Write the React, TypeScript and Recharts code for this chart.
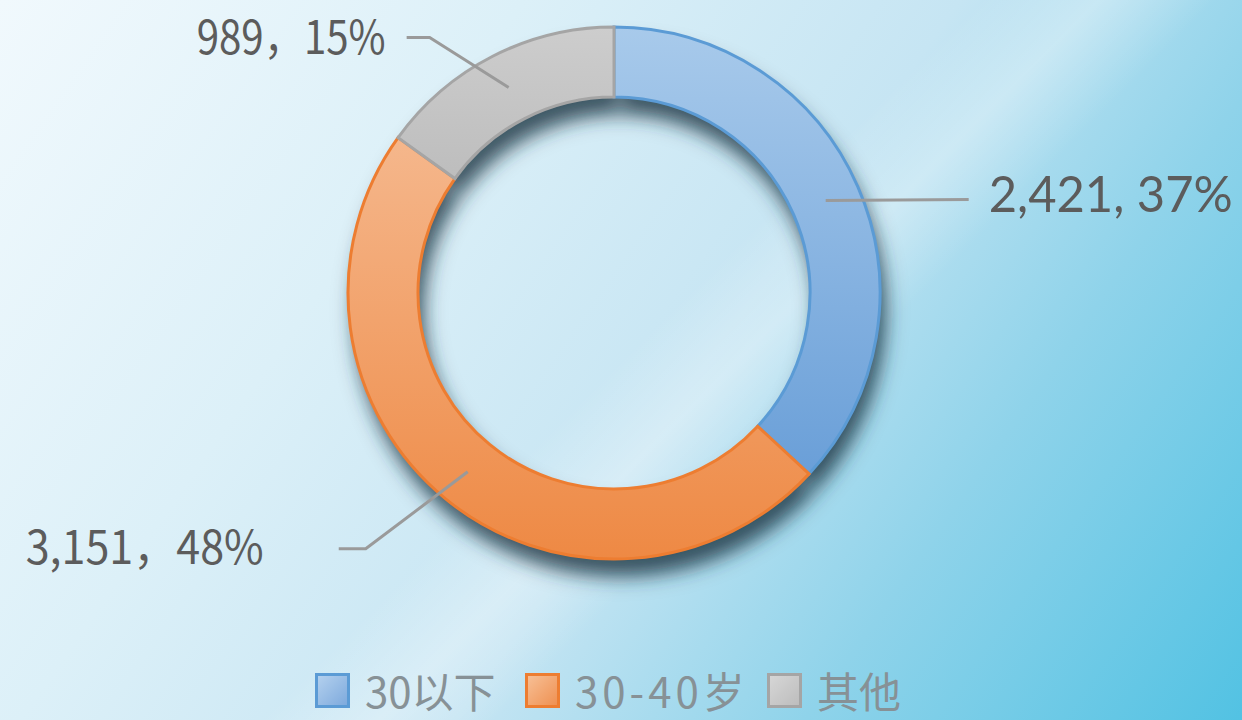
import { PieChart, Pie, Cell, Legend } from 'recharts';

// age groups
const categories = ['30以下', '30-40岁', '其他'];
const counts = [2421, 3151, 989];

const data = categories.map((name, i) => ({ name, value: counts[i] }));

const FILLS = ['url(#gBlue)', 'url(#gOrange)', 'url(#gGrey)'];
const EDGES = ['#5b9bd5', '#ed7d31', '#a5a5a5'];
const SWATCH = [
  'linear-gradient(135deg, #b3d0ee, #7eaadd)',
  'linear-gradient(135deg, #f7bf95, #ef9152)',
  'linear-gradient(135deg, #d6d6d6, #bdbdbd)',
];
const LEGEND_TEXT_W = [140, 172, 93];

const RAD = Math.PI / 180;

// leader line + text placement, per slice
const LABEL_LAYOUT = [
  { elbow: [143, -1], tail: 0, gap: 20, anchor: 'start', dy: 12, font: 'Lato, "Open Sans", sans-serif', size: 50, len: 244, sep: ', ' },
  { elbow: [-102, 77], tail: -27, gap: 75, anchor: 'end', dy: 15, font: '"Noto Sans CJK SC", sans-serif', size: 46, len: 238, sep: '，' },
  { elbow: [-79, -50], tail: -23, gap: 21, anchor: 'end', dy: 17, font: '"Noto Sans CJK SC", sans-serif', size: 46, len: 189, sep: '，' },
];

function renderLabel(props: any) {
  const { cx, cy, midAngle, innerRadius, outerRadius, value, percent, index } = props;
  const r = (innerRadius + outerRadius) / 2;
  const sx = cx + r * Math.cos(-midAngle * RAD);
  const sy = cy + r * Math.sin(-midAngle * RAD);
  const L = LABEL_LAYOUT[index];
  const ex = sx + L.elbow[0];
  const ey = sy + L.elbow[1];
  const tx = ex + L.tail;
  const textX = L.anchor === 'end' ? tx - L.gap : tx + L.gap;
  const text = `${value.toLocaleString('en-US')}${L.sep}${Math.round(percent * 100)}%`;
  return (
    <g>
      <polyline
        points={`${sx},${sy} ${ex},${ey} ${tx},${ey}`}
        fill="none"
        stroke="#9a9a9a"
        strokeWidth={3}
      />
      <text
        x={textX}
        y={ey + L.dy}
        textAnchor={L.anchor}
        fontFamily={L.font}
        fontSize={L.size}
        fill="#5c5c5c"
        textLength={L.len}
        lengthAdjust="spacingAndGlyphs"
      >
        {text}
      </text>
    </g>
  );
}

function LegendBox() {
  return (
    <div style={{ display: 'flex', alignItems: 'center', height: 44, paddingLeft: 315 }}>
      {categories.map((name, i) => (
        <div key={name} style={{ display: 'flex', alignItems: 'center', marginRight: 20 }}>
          <div
            style={{
              width: 29,
              height: 29,
              border: `3px solid ${EDGES[i]}`,
              background: SWATCH[i],
              marginRight: 15,
            }}
          />
          <span
            style={{
              fontFamily: '"Noto Sans CJK SC", sans-serif',
              fontSize: 42,
              lineHeight: '44px',
              color: '#879196',
              width: LEGEND_TEXT_W[i],
              whiteSpace: 'nowrap',
              letterSpacing: i === 1 ? 4 : 0,
            }}
          >
            {name}
          </span>
        </div>
      ))}
    </div>
  );
}

export default function App() {
  return (
    <div
      style={{
        position: 'absolute',
        left: 0,
        top: 0,
        width: 1242,
        height: 720,
        overflow: 'hidden',
        background:
          'linear-gradient(135deg, rgba(255,255,255,0) 50%, rgba(255,255,255,0.3) 56%, rgba(255,255,255,0) 62%),' +
          'linear-gradient(125deg, #f1f9fd 0%, #dcf0f8 30%, #c6e5f3 55%, #8fd3ea 75%, #52c2e3 100%)',
      }}
    >
      <style>{'.ring-shadow { filter: url(#ringShadow); }'}</style>
      <PieChart width={1242} height={720} margin={{ top: 0, right: 0, bottom: 0, left: 0 }}>
        <defs>
          <linearGradient id="gBlue" x1="0" y1="0" x2="0" y2="1">
            <stop offset="0%" stopColor="#a8caeb" />
            <stop offset="100%" stopColor="#6a9fd8" />
          </linearGradient>
          <linearGradient id="gOrange" x1="0" y1="0" x2="0" y2="1">
            <stop offset="0%" stopColor="#f5b78c" />
            <stop offset="100%" stopColor="#ee8944" />
          </linearGradient>
          <linearGradient id="gGrey" x1="0" y1="0" x2="0" y2="1">
            <stop offset="0%" stopColor="#cdcdcd" />
            <stop offset="100%" stopColor="#bdbdbd" />
          </linearGradient>
          <filter id="ringShadow" x="-20%" y="-20%" width="140%" height="140%">
            <feGaussianBlur in="SourceAlpha" stdDeviation="7" />
            <feOffset dx="3" dy="9" result="off" />
            <feFlood floodColor="#1a3442" floodOpacity="0.9" />
            <feComposite in2="off" operator="in" />
          </filter>
        </defs>
        <Pie
          className="ring-shadow"
          data={data}
          dataKey="value"
          cx={614}
          cy={293}
          innerRadius={196}
          outerRadius={266}
          startAngle={90}
          endAngle={-270}
          stroke="none"
          fill="#000"
          legendType="none"
          isAnimationActive={false}
        />
        <Pie
          data={data}
          dataKey="value"
          nameKey="name"
          cx={614}
          cy={293}
          innerRadius={196}
          outerRadius={266}
          startAngle={90}
          endAngle={-270}
          label={renderLabel}
          labelLine={false}
          isAnimationActive={false}
        >
          {data.map((d, i) => (
            <Cell key={d.name} fill={FILLS[i]} stroke={EDGES[i]} strokeWidth={3} />
          ))}
        </Pie>
        <Legend
          content={<LegendBox />}
          wrapperStyle={{ position: 'absolute', left: 0, top: 668, width: 1242 }}
        />
      </PieChart>
    </div>
  );
}
